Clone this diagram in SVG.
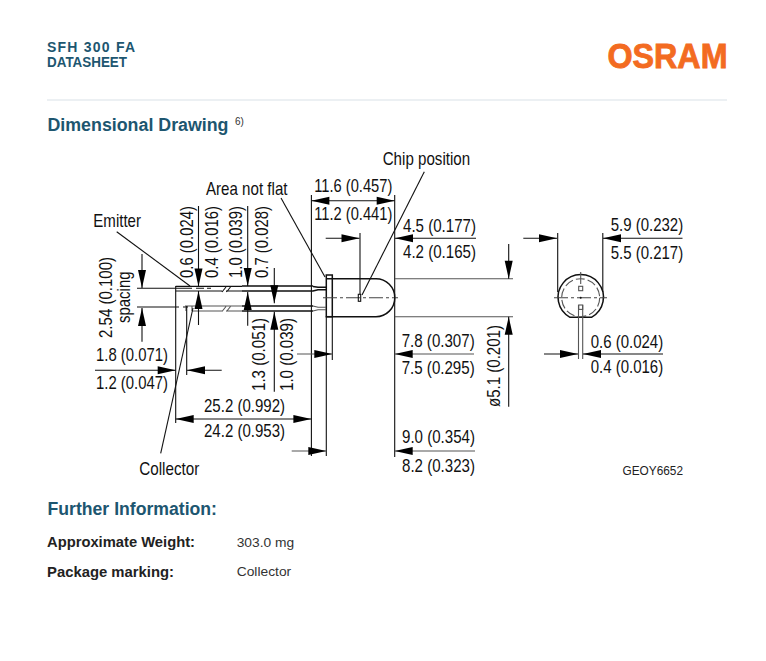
<svg xmlns="http://www.w3.org/2000/svg" width="766" height="661" viewBox="0 0 766 661">
<style>
text{font-family:"Liberation Sans",Arial,sans-serif}
.d{font-size:17.8px;fill:#111}
.h{font-weight:bold;fill:#1d5670}
.b{font-weight:bold;font-size:14px;fill:#222}
.v{font-size:13.5px;fill:#333}
.l{stroke:#111;stroke-width:1.1;fill:none}
.g{stroke:#555;stroke-width:1.1;fill:none}
.t{stroke:#111;stroke-width:1.5;fill:none}
.c{stroke:#444;stroke-width:1.1;fill:none;stroke-dasharray:14 3 3 3}
</style>
<defs>
<path id="tl" d="M0,0 L18,-4 V4 z" fill="#000"/>
<path id="tr" d="M0,0 L-18,-4 V4 z" fill="#000"/>
<path id="tu" d="M0,0 L-4,18 H4 z" fill="#000"/>
<path id="td" d="M0,0 L-4,-18 H4 z" fill="#000"/>
</defs>
<rect width="766" height="661" fill="#fff"/>

<g id="header">
<text class="h" x="47" y="52" font-size="14" textLength="88" lengthAdjust="spacing">SFH 300 FA</text>
<text class="h" x="47" y="67" font-size="14" textLength="80" lengthAdjust="spacingAndGlyphs">DATASHEET</text>
<text x="607.5" y="68" font-size="35.5" font-weight="bold" fill="#f36b21" stroke="#f36b21" stroke-width="0.9" textLength="120" lengthAdjust="spacingAndGlyphs">OSRAM</text>
<line x1="47" y1="100" x2="727" y2="100" stroke="#e6ebef" stroke-width="1.6"/>
<text class="h" x="47.5" y="130.5" font-size="18" textLength="181" lengthAdjust="spacingAndGlyphs">Dimensional Drawing</text>
<text x="235" y="125" font-size="10" fill="#333">6)</text>
</g>

<g id="led-side">
<path class="t" d="M326,278.7 H376 A18.8,19 0 0 1 376,316.7 H326"/>
<rect class="t" x="326.3" y="275" width="6" height="41.7"/>
<line class="c" x1="323" y1="297.7" x2="398" y2="297.7"/>
<rect class="l" x="358.3" y="294.3" width="2.4" height="7"/>
<path class="t" d="M242,286 H313 M313,286.5 L318,287.3 H326 M242,291 H313 L318,289.7 H326"/>
<path class="l" d="M175.7,286.4 H242 M175.7,291 H222 M222,292 L226,287 M226.5,292 L230.5,287 M226,291 H242"/>
<path class="l" d="M137,288.3 H192 M196,288.3 H204 M207,288.3 H211"/>
<path class="t" d="M242,306 H313 M242,311 H313"/>
<path class="g" d="M185,306 H242 M192,311 H222 M222,311.5 L226,306.5 M226.5,311.5 L230.5,306.5 M226,311 H242 M313,306 L318,307.3 H326 M313,311 L318,309.7 H326"/>
<path class="l" d="M137,307 H179 M183,307 H188"/>
<path class="g" d="M186,306 V311 M192,306 V311"/>
</g>

<g id="led-front">
<path class="t" d="M570,317.3 A22.7,22.7 0 1 1 591.5,317.3 Z"/>
<circle class="g" cx="580.7" cy="297.7" r="19" stroke-dasharray="9 3"/>
<line class="c" x1="554" y1="297.7" x2="607" y2="297.7"/>
<line class="g" x1="580.7" y1="272" x2="580.7" y2="284"/>
<circle cx="580.7" cy="297.7" r="1" fill="#111"/>
<rect class="g" x="578.7" y="286.3" width="4" height="4.4"/>
<rect class="g" x="578.7" y="305" width="4" height="4.4"/>
<path class="g" d="M578.5,305 V359 M582.7,305 V359"/>
</g>

<g id="connectors">
<path class="l" d="M311.4,195 V456 M326.3,316 V456 M394.7,195 V457 M332.3,316 V360 M175.7,286 V423 M186.7,306 V375"/>
<path class="g" d="M395,278.7 H513 M395,316.7 H513"/>
<path class="l" d="M557.7,233 V292 M602.8,233 V292"/>
<line class="l" x1="360" y1="233" x2="360" y2="294"/>
<line class="l" x1="362" y1="295" x2="424.3" y2="171.7"/>
<line class="l" x1="116.7" y1="231.7" x2="190" y2="286"/>
<line class="l" x1="281" y1="198" x2="325" y2="277"/>
<line class="l" x1="160.7" y1="453.3" x2="193" y2="308"/>
<line class="l" x1="311.4" y1="200.7" x2="394.7" y2="200.7"/>
<use href="#tl" x="311.4" y="200.7"/><use href="#tr" x="394.7" y="200.7"/>
<line class="l" x1="325.7" y1="238.3" x2="359.5" y2="238.3"/><use href="#tr" x="359.5" y="238.3"/>
<line class="l" x1="476" y1="238.3" x2="395" y2="238.3"/><use href="#tl" x="395" y="238.3"/>
<line class="l" x1="508.7" y1="244" x2="508.7" y2="278.7"/><use href="#td" x="508.7" y="278.7"/>
<line class="l" x1="508.7" y1="406.7" x2="508.7" y2="316.7"/><use href="#tu" x="508.7" y="316.7"/>
<line class="l" x1="523.3" y1="238.3" x2="557" y2="238.3"/><use href="#tr" x="557" y="238.3"/>
<line class="l" x1="682.5" y1="238.3" x2="603" y2="238.3"/><use href="#tl" x="603" y="238.3"/>
<line class="l" x1="544" y1="354" x2="578" y2="354"/><use href="#tr" x="578" y="354"/>
<line class="l" x1="663" y1="354" x2="583" y2="354"/><use href="#tl" x="583" y="354"/>
<line class="l" x1="198.5" y1="206" x2="198.5" y2="286.5"/><use href="#td" x="198.5" y="286.5"/>
<line class="l" x1="198.5" y1="325" x2="198.5" y2="291"/><use href="#tu" x="198.5" y="291"/>
<line class="l" x1="247.7" y1="206" x2="247.7" y2="286"/><use href="#td" x="247.7" y="286"/>
<line class="l" x1="247.7" y1="325.7" x2="247.7" y2="292"/><use href="#tu" x="247.7" y="292"/>
<line class="l" x1="274.3" y1="268" x2="274.3" y2="303.3"/><use href="#td" x="274.3" y="303.3"/>
<line class="l" x1="274.3" y1="391.7" x2="274.3" y2="311.7"/><use href="#tu" x="274.3" y="311.7"/>
<line class="l" x1="142" y1="254" x2="142" y2="288"/><use href="#td" x="142" y="288"/>
<line class="l" x1="142" y1="341.7" x2="142" y2="308"/><use href="#tu" x="142" y="308"/>
<line class="l" x1="95" y1="370.3" x2="175.7" y2="370.3"/><use href="#tr" x="175.7" y="370.3"/>
<line class="l" x1="221.7" y1="370.3" x2="187" y2="370.3"/><use href="#tl" x="187" y="370.3"/>
<line class="l" x1="175.7" y1="419" x2="311.4" y2="419"/>
<use href="#tl" x="175.7" y="419"/><use href="#tr" x="311.4" y="419"/>
<line class="g" x1="297" y1="354" x2="332.3" y2="354"/><use href="#tr" x="332.3" y="354"/>
<line class="g" x1="474" y1="354" x2="394.7" y2="354"/><use href="#tl" x="394.7" y="354"/>
<line class="g" x1="291.7" y1="451" x2="326.3" y2="451"/><use href="#tr" x="326.3" y="451"/>
<line class="g" x1="475" y1="451" x2="394.7" y2="451"/><use href="#tl" x="394.7" y="451"/>
</g>

<g id="labels">
<text class="d" x="382.7" y="165" textLength="87.5" lengthAdjust="spacingAndGlyphs">Chip position</text>
<text class="d" x="206" y="195" textLength="81.5" lengthAdjust="spacingAndGlyphs">Area not flat</text>
<text class="d" x="93.3" y="226.7" textLength="47.7" lengthAdjust="spacingAndGlyphs">Emitter</text>
<text class="d" x="139.3" y="475" textLength="60" lengthAdjust="spacingAndGlyphs">Collector</text>
<text class="d" x="314.3" y="192" textLength="78" lengthAdjust="spacingAndGlyphs">11.6 (0.457)</text>
<text class="d" x="314.3" y="220" textLength="78" lengthAdjust="spacingAndGlyphs">11.2 (0.441)</text>
<text class="d" x="403" y="232.3" textLength="73" lengthAdjust="spacingAndGlyphs">4.5 (0.177)</text>
<text class="d" x="403" y="258" textLength="73" lengthAdjust="spacingAndGlyphs">4.2 (0.165)</text>
<text class="d" x="610.7" y="231" textLength="72.5" lengthAdjust="spacingAndGlyphs">5.9 (0.232)</text>
<text class="d" x="610.7" y="259.3" textLength="72.5" lengthAdjust="spacingAndGlyphs">5.5 (0.217)</text>
<text class="d" x="590.7" y="347.7" textLength="72.5" lengthAdjust="spacingAndGlyphs">0.6 (0.024)</text>
<text class="d" x="590.7" y="373.3" textLength="72.5" lengthAdjust="spacingAndGlyphs">0.4 (0.016)</text>
<text class="d" x="401.7" y="347.3" textLength="73" lengthAdjust="spacingAndGlyphs">7.8 (0.307)</text>
<text class="d" x="401.7" y="374.3" textLength="73" lengthAdjust="spacingAndGlyphs">7.5 (0.295)</text>
<text class="d" x="402" y="443.3" textLength="73" lengthAdjust="spacingAndGlyphs">9.0 (0.354)</text>
<text class="d" x="402" y="471.7" textLength="73" lengthAdjust="spacingAndGlyphs">8.2 (0.323)</text>
<text class="d" x="96" y="360.7" textLength="72" lengthAdjust="spacingAndGlyphs">1.8 (0.071)</text>
<text class="d" x="96" y="389.3" textLength="72" lengthAdjust="spacingAndGlyphs">1.2 (0.047)</text>
<text class="d" x="204" y="412" textLength="81" lengthAdjust="spacingAndGlyphs">25.2 (0.992)</text>
<text class="d" x="204" y="436.7" textLength="81" lengthAdjust="spacingAndGlyphs">24.2 (0.953)</text>
<text class="d" transform="translate(192.7,278) rotate(-90)" textLength="72" lengthAdjust="spacingAndGlyphs">0.6 (0.024)</text>
<text class="d" transform="translate(217.7,278) rotate(-90)" textLength="72" lengthAdjust="spacingAndGlyphs">0.4 (0.016)</text>
<text class="d" transform="translate(242.3,278) rotate(-90)" textLength="72" lengthAdjust="spacingAndGlyphs">1.0 (0.039)</text>
<text class="d" transform="translate(268.3,278) rotate(-90)" textLength="72" lengthAdjust="spacingAndGlyphs">0.7 (0.028)</text>
<text class="d" transform="translate(112.3,338) rotate(-90)" textLength="81" lengthAdjust="spacingAndGlyphs">2.54 (0.100)</text>
<text class="d" transform="translate(130,323) rotate(-90)" textLength="51.5" lengthAdjust="spacingAndGlyphs">spacing</text>
<text class="d" transform="translate(265,391) rotate(-90)" textLength="73" lengthAdjust="spacingAndGlyphs">1.3 (0.051)</text>
<text class="d" transform="translate(293.3,391) rotate(-90)" textLength="73" lengthAdjust="spacingAndGlyphs">1.0 (0.039)</text>
<text class="d" transform="translate(500,407) rotate(-90)" textLength="82" lengthAdjust="spacingAndGlyphs">ø5.1 (0.201)</text>
<text x="622.5" y="475" font-size="12" fill="#222" textLength="60.5" lengthAdjust="spacingAndGlyphs">GEOY6652</text>
</g>

<g id="further-information">
<text class="h" x="47.5" y="515" font-size="18" textLength="169.5" lengthAdjust="spacingAndGlyphs">Further Information:</text>
<text class="b" x="47" y="546.7" textLength="148" lengthAdjust="spacingAndGlyphs">Approximate Weight:</text>
<text class="b" x="47" y="576.7" textLength="127" lengthAdjust="spacingAndGlyphs">Package marking:</text>
<text class="v" x="236.7" y="546.5" textLength="57.5" lengthAdjust="spacingAndGlyphs">303.0 mg</text>
<text class="v" x="236.7" y="576" textLength="54.5" lengthAdjust="spacingAndGlyphs">Collector</text>
</g>
</svg>
